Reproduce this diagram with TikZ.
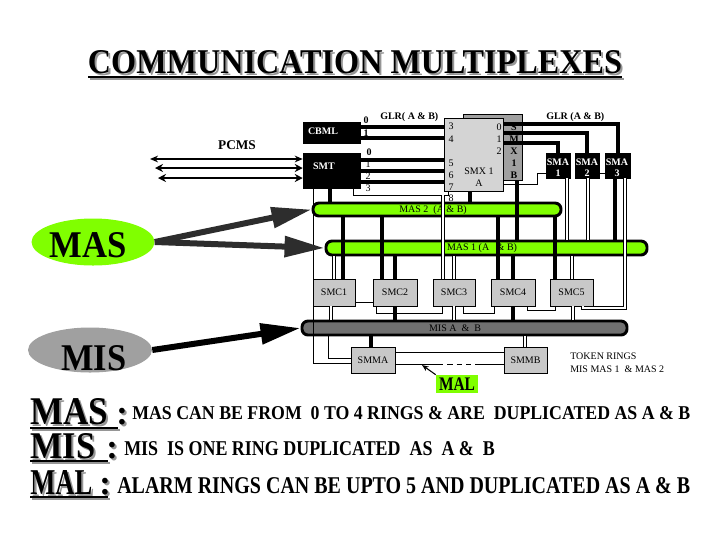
\documentclass[tikz,border=0pt]{standalone}
\usepackage{fontspec}
\setmainfont{Liberation Serif}
\usepackage{graphicx}
\usetikzlibrary{arrows.meta,fit,shapes.geometric,calc}
\definecolor{ringgreen}{RGB}{128,255,0}
\definecolor{boxgray}{RGB}{200,200,200}
\definecolor{smxagray}{RGB}{212,212,212}
\definecolor{smxbgray}{RGB}{160,160,160}
\definecolor{misring}{RGB}{112,112,112}
\definecolor{misell}{RGB}{160,160,160}
\definecolor{shadowgray}{RGB}{150,150,150}
\definecolor{arrowgray}{RGB}{45,45,45}
\begin{document}
\begin{tikzpicture}[x=0.75pt,y=-0.75pt,
  lbl/.style={font=\fontsize{7.5}{8}\selectfont, inner sep=0pt},
  blbl/.style={font=\bfseries\fontsize{7.5}{8}\selectfont, inner sep=0pt},
  wlbl/.style={font=\bfseries\fontsize{7.5}{8}\selectfont, inner sep=0pt, text=white},
  blkbox/.style={fill=black, draw=black, inner sep=0pt},
  gbox/.style={fill=boxgray, draw=black, line width=0.5pt, inner sep=0pt},
  ring/.style={draw=black, line width=2.2pt, rounded corners=4.5pt, inner sep=0pt},
  thk/.style={line width=3.6pt},
  bus/.style={line width=3pt},
  thn/.style={line width=0.6pt},
  dbl/.style={double=white, double distance=1.6pt, line width=0.5pt},
  bigarrow/.style={line width=4.5pt, -{Triangle[length=30pt,width=15pt]}},
  big/.style={anchor=base west, inner sep=0pt},
]
\useasboundingbox (0,0) rectangle (720,540);

% ---------- title ----------
\node[anchor=base, inner sep=0, text=shadowgray] at (357,75) {\resizebox{400.5pt}{17.25pt}{\bfseries COMMUNICATION MULTIPLEXES}};
\node[anchor=base, inner sep=0] (title) at (355,73) {\resizebox{400.5pt}{17.25pt}{\bfseries COMMUNICATION MULTIPLEXES}};
\draw[line width=1.6pt, shadowgray] (90,79) -- (624,79);
\draw[line width=1.6pt] (88,77) -- (622,77);

% ---------- rings ----------
\node[ring, fill=ringgreen, fit={(313,203) (561,216)}] (mas2) {};
\node[ring, fill=ringgreen, fit={(326,241) (647,255)}] (mas1) {};
\node[ring, fill=misring, fit={(302,321) (627,335)}] (mis) {};
\node[lbl] at (433,210) {MAS 2 \ (A \& B)};
\node[lbl] at (482,248) {MAS 1 (A \ \ \& B)};
\node[lbl] at (455,328) {MIS A \ \& \ B};

% ---------- SMX ----------
\node[fill=smxbgray, draw=black, line width=0.5pt, inner sep=0, fit={(463,114) (522,180)}] (smxb) {};
\node[fill=smxagray, draw=black, line width=0.5pt, inner sep=0, fit={(444,118) (503,191)}] (smxa) {};
\foreach \t/\y in {3/126,4/139,5/163,6/175,7/187,8/198}{\node[lbl] at (451,\y) {\t};}
\foreach \t/\y in {0/127,1/139,2/151}{\node[lbl] at (499,\y) {\t};}
\foreach \t/\y in {S/127,M/139,X/151,1/163,B/175}{\node[blbl] at (514,\y) {\t};}
\node[lbl] at (479,171) {SMX 1};
\node[lbl] at (479,183) {A};
\node[blbl, anchor=west] at (380,117) {GLR( A \& B)};
\node[blbl, anchor=west] at (546,117) {GLR (A \& B)};
\node[font=\bfseries\fontsize{10}{12}\selectfont, inner sep=0] at (237,145) {PCMS};

% CBML / SMT digit labels
\node[blbl] at (366,120) {0};
\node[blbl] at (366,133) {1};
\node[blbl] at (369,152) {0};
\node[lbl] at (368,164) {1};
\node[lbl] at (368,176) {2};
\node[lbl] at (368,188) {3};

% ---------- boxes ----------
\node[blkbox, fit={(303,122) (360,143)}] (cbml) {};
\node[blkbox, fit={(303,153) (360,188)}] (smt) {};
\node[blkbox, fit={(546,153) (570,178)}] (sma1) {};
\node[blkbox, fit={(575,153) (599,178)}] (sma2) {};
\node[blkbox, fit={(605,153) (630,178)}] (sma3) {};
\node[gbox, fit={(313,279) (355,306)}, label={[lbl]center:SMC1}] (smc1) {};
\node[gbox, fit={(373,279) (417,306)}, label={[lbl]center:SMC2}] (smc2) {};
\node[gbox, fit={(433,279) (475,306)}, label={[lbl]center:SMC3}] (smc3) {};
\node[gbox, fit={(491,279) (535,306)}, label={[lbl]center:SMC4}] (smc4) {};
\node[gbox, fit={(550,279) (593,306)}, label={[lbl]center:SMC5}] (smc5) {};
\node[gbox, fit={(351,347) (395,373)}, label={[lbl]center:SMMA}] (smma) {};
\node[gbox, fit={(504,347) (547,373)}, label={[lbl]center:SMMB}] (smmb) {};

\node[wlbl] at (323,131) {CBML};
\node[wlbl] at (324,166) {SMT};
\node[wlbl] at (558,162) {SMA}; \node[wlbl] at (558,173) {1};
\node[wlbl] at (587,162) {SMA}; \node[wlbl] at (587,173) {2};
\node[wlbl] at (617,162) {SMA}; \node[wlbl] at (617,173) {3};

% ---------- buses to SMX ----------
\draw[bus] (cbml.east |- 0,127) -- (smxa.west |- 0,127);
\draw[bus] (cbml.east |- 0,138) -- (smxa.west |- 0,138);
\draw[bus] (smt.east |- 0,160) -- (smxa.west |- 0,160);
\draw[bus] (smt.east |- 0,171) -- (smxa.west |- 0,171);
\draw[bus] (smt.east |- 0,182) -- (smxa.west |- 0,182);
\draw[bus] (smxa.east |- 0,124) -| (sma3.north);
\draw[bus] (smxa.east |- 0,133) -| (sma2.north);
\draw[bus] (smxa.east |- 0,143) -| (sma1.north);
\draw[thn] (smxa.east |- 0,184) -- (537,184) -- (537,173) -- (sma1.west |- 0,173);
\draw[thn] (sma2.east |- 0,173) -- (sma3.west |- 0,173);

% ---------- PCMS arrows ----------
\coordinate (p1) at (150,159);
\coordinate (p2) at (155,168);
\coordinate (p3) at (158,178);
\draw[line width=1pt, {Stealth[length=6pt,width=5pt]}-{Stealth[length=6pt,width=5pt]}] (p1) -- (smt.west |- p1);
\draw[line width=2pt, {Stealth[length=6pt,width=6pt]}-{Stealth[length=6pt,width=6pt]}] (p2) -- (smt.west |- p2);
\draw[line width=2pt, {Stealth[length=6pt,width=6pt]}-{Stealth[length=6pt,width=6pt]}] (p3) -- (smt.west |- p3);

% ---------- verticals to rings ----------
\draw[thk] (330,0 |- smt.south) -- (330,0 |- mas2.north);
\draw[thk] (470,0 |- smxa.south) -- (470,0 |- mas2.north);
\draw[thk] (517,0 |- smxb.south) -- (517,0 |- mas1.north);
\draw[thn] (353,0 |- smt.south) -- (353,195) -- (448,195) -- (448,0 |- smxa.south);
\draw[dbl] (443,195) -- (443,0 |- smc3.north);
\draw[dbl] (567,0 |- sma1.south) -- (567,0 |- mas1.north);
\draw[dbl] (588,0 |- sma2.south) -- (588,0 |- mas1.north);
\draw[thk] (615,0 |- sma3.south) -- (615,0 |- mas1.north);
\draw[dbl] (625,0 |- sma3.south) -- (625,308) -- (583,308) -- (583,0 |- smc5.south);

% ---------- rings to SMC ----------
\draw[dbl] (334,0 |- mas1.south) -- (334,0 |- smc1.north);
\draw[thk] (343,0 |- mas2.south) -- (343,0 |- smc1.north);
\draw[thk] (382,0 |- mas2.south) -- (382,0 |- smc2.north);
\draw[thk] (395,0 |- mas1.south) -- (395,0 |- smc2.north);
\draw[dbl] (454,0 |- mas1.south) -- (454,0 |- smc3.north);
\draw[thk] (498,0 |- mas2.south) -- (498,0 |- smc4.north);
\draw[thk] (513,0 |- mas1.south) -- (513,0 |- smc4.north);
\draw[thk] (555,0 |- mas2.south) -- (555,0 |- smc5.north);
\draw[dbl] (572,0 |- mas1.south) -- (572,0 |- smc5.north);

% ---------- SMC links ----------
\draw[thn] (smc1.east |- 0,302) -- (smc2.west |- 0,302);
\draw[thn] (376,0 |- smc2.south) -- (376,313) -- (442,313) -- (442,0 |- smc3.south);
\draw[thn] (463,0 |- smc3.south) -- (463,313) -- (494,313) -- (494,0 |- smc4.south);
\draw[thn] (527,0 |- smc4.south) -- (527,310) -- (555,310) -- (555,0 |- smc5.south);

% ---------- SMC to MIS ----------
\draw[dbl] (331,0 |- smc1.south) -- (331,0 |- mis.north);
\draw[thk] (395,0 |- smc2.south) -- (395,0 |- mis.north);
\draw[dbl] (454,0 |- smc3.south) -- (454,0 |- mis.north);
\draw[thk] (513,0 |- smc4.south) -- (513,0 |- mis.north);
\draw[dbl] (573,0 |- smc5.south) -- (573,0 |- mis.north);

% ---------- MIS to SMM ----------
\draw[thn] (313,0 |- smt.south) -- (313,363) -- (smma.west |- 0,363);
\draw[thn] (328,0 |- mis.south) -- (328,358) -- (smma.west |- 0,358);
\draw[thk] (371,0 |- mis.south) -- (371,0 |- smma.north);
\draw[dbl] (525,0 |- mis.south) -- (525,0 |- smmb.north);
\draw[thn] (smma.east |- 0,352) -- (smmb.west |- 0,352);
\coordinate (gapA) at (438,364);
\coordinate (gapB) at (478,364);
\draw[thn] (smma.east |- 0,364) -- (gapA);
\draw[thn, dash pattern=on 4pt off 3pt] (gapA) -- (gapB);
\draw[thn] (gapB) -- (smmb.west |- 0,364);

% ---------- MAL ----------
\node[fill=ringgreen, inner sep=0, fit={(436,375) (478,393)}] (mal) {};
\node[inner sep=0] at (mal.center) {\resizebox{27pt}{9.5pt}{\bfseries MAL}};
\coordinate (maltip) at (422,365);
\draw[line width=0.8pt, -{Stealth[length=5pt,width=4pt]}] (mal.north west) -- (maltip);

% token rings note
\node[lbl, anchor=base west] at (570,359) {TOKEN RINGS};
\node[lbl, anchor=base west] at (570,372) {MIS MAS 1 \ \& MAS 2};

% ---------- MAS / MIS ellipses ----------
\node[ellipse, fill=ringgreen, minimum width=92.25pt, minimum height=35.25pt, inner sep=0] (masE) at (93,242) {};
\node[anchor=base, inner sep=0] at (88,257) {\resizebox{57.75pt}{18.75pt}{\bfseries MAS}};
\node[ellipse, fill=misell, minimum width=93pt, minimum height=33.75pt, inner sep=0] (misE) at (90,350) {};
\node[anchor=base, inner sep=0] at (94,370) {\resizebox{48.75pt}{18.75pt}{\bfseries MIS}};
\draw[bigarrow, arrowgray] (masE.east) -- (mas2.west);
\draw[bigarrow, arrowgray] (masE.east) -- (mas1.west);
\draw[bigarrow, black] (misE.east) -- (mis.west);

% ---------- bottom legend ----------
\node[big, text=shadowgray] at (32,426) {\resizebox{58.5pt}{19.5pt}{\bfseries MAS}};
\node[big] (legMAS) at (30,424) {\resizebox{58.5pt}{19.5pt}{\bfseries MAS}};
\node[big, text=shadowgray, font=\bfseries\fontsize{26}{28}\selectfont] at (118,426) {:};
\node[big, font=\bfseries\fontsize{26}{28}\selectfont] at (116,424) {:};
\draw[line width=1.8pt, shadowgray] (32,430) -- (120,430);
\draw[line width=1.8pt] (30,428) -- (118,428);
\node[big] at (132,419) {\resizebox{418.5pt}{9.75pt}{\bfseries MAS CAN BE FROM \ 0 TO 4 RINGS \& ARE \ DUPLICATED AS A \& B}};

\node[big, text=shadowgray] at (32,460) {\resizebox{48.75pt}{18.75pt}{\bfseries MIS}};
\node[big] (legMIS) at (30,458) {\resizebox{48.75pt}{18.75pt}{\bfseries MIS}};
\node[big, text=shadowgray, font=\bfseries\fontsize{26}{28}\selectfont] at (108,460) {:};
\node[big, font=\bfseries\fontsize{26}{28}\selectfont] at (106,458) {:};
\draw[line width=1.8pt, shadowgray] (32,463) -- (110,463);
\draw[line width=1.8pt] (30,461) -- (108,461);
\node[big] at (124,455) {\resizebox{278pt}{10.5pt}{\bfseries MIS \ IS ONE RING DUPLICATED \ AS \ A \& \ B}};

\node[big, text=shadowgray] at (32,496) {\resizebox{46.5pt}{18pt}{\bfseries MAL}};
\node[big] (legMAL) at (30,494) {\resizebox{46.5pt}{18pt}{\bfseries MAL}};
\node[big, text=shadowgray, font=\bfseries\fontsize{26}{28}\selectfont] at (101,496) {:};
\node[big, font=\bfseries\fontsize{26}{28}\selectfont] at (99,494) {:};
\draw[line width=1.8pt, shadowgray] (32,499) -- (110,499);
\draw[line width=1.8pt] (30,497) -- (108,497);
\node[big] at (117,493) {\resizebox{429.75pt}{12pt}{\bfseries ALARM RINGS CAN BE UPTO 5 AND DUPLICATED AS A \& B}};
\end{tikzpicture}
\end{document}
